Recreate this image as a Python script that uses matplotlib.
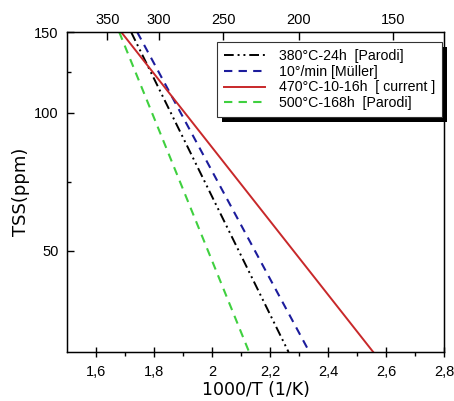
import matplotlib
matplotlib.use("Agg")
import matplotlib.pyplot as plt
from matplotlib.patches import Rectangle
from matplotlib.ticker import FixedLocator, NullFormatter

# ---- data ----
tss_ends = [150, 30]
x_380 = [1.721, 2.264]
x_muller = [1.742, 2.336]
x_470 = [1.687, 2.556]
x_500 = [1.680, 2.128]
labels = ["380°C-24h  [Parodi]", "10°/min [Müller]", "470°C-10-16h  [ current ]", "500°C-168h  [Parodi]"]

x_ticks = [1.6, 1.8, 2.0, 2.2, 2.4, 2.6, 2.8]
x_tick_labels = ["1,6", "1,8", "2", "2,2", "2,4", "2,6", "2,8"]
x_minor = [1.7, 1.9, 2.1, 2.3, 2.5, 2.7]
y_ticks = [50, 100, 150]
y_minor = [70.7, 122.5]
top_tick_pos = [1.639, 1.818, 2.038, 2.299, 2.625]
top_tick_labels = ["350", "300", "250", "200", "150"]

tick_font = "Liberation Sans"
tfs = 10.5

fig = plt.figure(figsize=(4.54, 4.01), dpi=100)
ax = fig.add_axes([0.1476, 0.122, 0.8304, 0.798])

ax.plot(x_380, tss_ends, color="black", lw=1.4, linestyle=(0, (5, 2, 1, 2, 1, 2)), label=labels[0])
ax.plot(x_muller, tss_ends, color="#1c1c9c", lw=1.5, linestyle=(0, (4, 3)), label=labels[1])
ax.plot(x_470, tss_ends, color="#c8282a", lw=1.4, linestyle="-", label=labels[2])
ax.plot(x_500, tss_ends, color="#3fd03f", lw=1.5, linestyle=(0, (4, 3)), label=labels[3])

ax.set_yscale("log")
ax.set_xlim(1.5, 2.8)
ax.set_ylim(30, 150)

ax.xaxis.set_major_locator(FixedLocator(x_ticks))
ax.set_xticklabels(x_tick_labels, fontfamily=tick_font, fontsize=tfs)
ax.xaxis.set_minor_locator(FixedLocator(x_minor))
ax.yaxis.set_major_locator(FixedLocator(y_ticks))
ax.set_yticklabels([str(v) for v in y_ticks], fontfamily=tick_font, fontsize=tfs)
ax.yaxis.set_minor_locator(FixedLocator(y_minor))
ax.yaxis.set_minor_formatter(NullFormatter())

ax.tick_params(axis="x", which="major", direction="inout", length=7, width=1, pad=6)
ax.tick_params(axis="x", which="minor", direction="out", length=3, width=1)
ax.tick_params(axis="y", which="major", direction="in", length=5, width=1, pad=6)
ax.tick_params(axis="y", which="minor", direction="in", length=3, width=1)
ax.tick_params(right=False, top=False, which="both")

for s in ax.spines.values():
    s.set_linewidth(1.0)

ax.set_xlabel("1000/T (1/K)", fontsize=12.5, fontfamily="DejaVu Sans", labelpad=1)
ax.set_ylabel("TSS(ppm)", fontsize=13, fontfamily="DejaVu Sans", labelpad=3)

# top temperature axis
axt = ax.twiny()
axt.set_xlim(ax.get_xlim())
axt.xaxis.set_major_locator(FixedLocator(top_tick_pos))
axt.set_xticklabels(top_tick_labels, fontfamily=tick_font, fontsize=tfs)
axt.xaxis.set_minor_locator(FixedLocator([]))
axt.tick_params(axis="x", which="major", direction="in", length=6, width=1, pad=4)

leg = ax.legend(loc="upper left", bbox_to_anchor=(0.398, 0.969), borderaxespad=0,
                frameon=True, fancybox=False,
                edgecolor="#333333", framealpha=1, handlelength=2.9,
                handletextpad=0.95, borderpad=0.5, labelspacing=0.12,
                prop={"family": tick_font, "size": 10.2})
leg.get_frame().set_linewidth(0.8)
leg.set_zorder(10)

fig.canvas.draw()
bb = leg.get_window_extent()
shadow = Rectangle((bb.x0 + 5, bb.y0 - 5), bb.width, bb.height, transform=None,
                   facecolor="black", edgecolor="none", zorder=9, clip_on=False)
ax.add_artist(shadow)

fig.savefig("out.png", dpi=100)
